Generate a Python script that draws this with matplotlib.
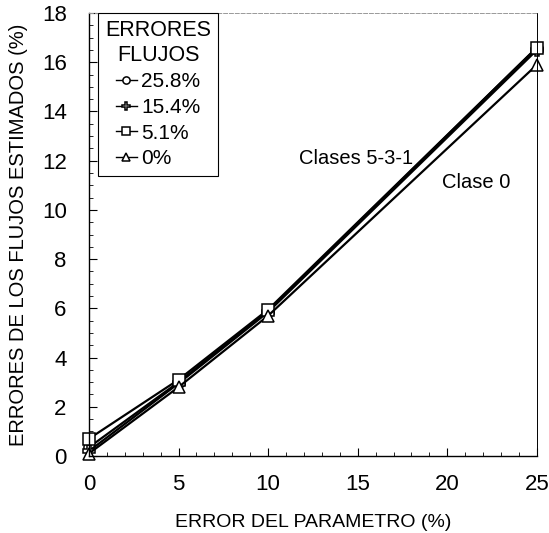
import matplotlib
matplotlib.use("Agg")
import matplotlib.pyplot as plt
from matplotlib.ticker import MultipleLocator

plt.rcParams['font.family'] = ['Liberation Sans', 'DejaVu Sans']

# error del parametro (%)
x_err = [0, 5, 10, 25]

# errores de los flujos estimados (%) for each flow error level
err_258 = [0.35, 3.0, 5.9, 16.6]
err_154 = [0.2, 2.95, 5.85, 16.5]
err_51 = [0.7, 3.1, 5.95, 16.6]
err_0 = [0.1, 2.8, 5.7, 15.9]

labels = ["25.8%", "15.4%", "5.1%", "0%"]
markers = ["o", "P", "s", "^"]

fig = plt.figure(figsize=(5.49, 5.33), dpi=100)
ax = fig.add_axes([0.162, 0.1445, 0.816, 0.831])

for ys, m, lab in zip([err_258, err_154, err_51, err_0], markers, labels):
    ax.plot(x_err, ys, color='black', lw=1.6, marker=m, ms=8,
            mfc='white', mec='black', mew=1.1, label=lab, clip_on=False)

ax.set_xlim(0, 25)
ax.set_ylim(0, 18)
ax.xaxis.set_major_locator(MultipleLocator(5))
ax.xaxis.set_minor_locator(MultipleLocator(1))
ax.yaxis.set_major_locator(MultipleLocator(2))
ax.yaxis.set_minor_locator(MultipleLocator(0.5))
ax.tick_params(which='both', direction='in', labelsize=16)
ax.tick_params(which='major', length=6, width=0.8)
ax.tick_params(which='minor', length=3, width=0.6)
ax.tick_params(axis='x', pad=13)
ax.tick_params(axis='y', pad=16)

for side in ['left', 'bottom']:
    ax.spines[side].set_linewidth(1.0)
ax.spines['right'].set_linewidth(0.7)
ax.spines['top'].set_linewidth(0.7)
ax.spines['top'].set_color('#999999')
ax.spines['top'].set_linestyle((0, (4, 2)))

ax.set_xlabel("ERROR DEL PARAMETRO (%)", fontsize=14, labelpad=14)
ax.set_ylabel("ERRORES DE LOS FLUJOS ESTIMADOS (%)", fontsize=14.5, labelpad=10)

ax.text(14.9, 12.1, "Clases 5-3-1", fontsize=14.5, ha='center', va='center')
ax.text(21.6, 11.1, "Clase 0", fontsize=14.5, ha='center', va='center')

leg = ax.legend(title="ERRORES\nFLUJOS", loc='upper left',
                bbox_to_anchor=(0.02, 1.0), borderaxespad=0,
                fontsize=15, title_fontsize=15.5,
                handlelength=1.0, handletextpad=0.2, markerscale=0.65,
                borderpad=0.35, labelspacing=0.32, fancybox=False,
                framealpha=1, edgecolor='black')
leg.get_frame().set_linewidth(0.8)
leg.get_title().set_multialignment('center')
for line in leg.get_lines():
    line.set_linewidth(1.0)

fig.savefig("out.png", dpi=100)
